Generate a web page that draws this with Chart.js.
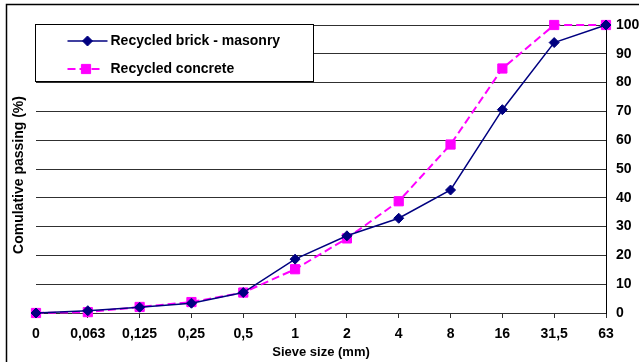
<!DOCTYPE html>
<html>
<head>
<meta charset="utf-8">
<script src="https://cdn.jsdelivr.net/npm/chart.js@4/dist/chart.umd.min.js"></script>
<style>
  html, body { margin: 0; padding: 0; background: #fff; }
  #wrap { width: 639px; height: 362px; }
</style>
</head>
<body>
<div id="wrap"><canvas id="c" width="639" height="362"></canvas></div>
<script>
// Sieve sizes (mm) along the x axis
const sieveSizes = ['0', '0,063', '0,125', '0,25', '0,5', '1', '2', '4', '8', '16', '31,5', '63'];
// Cumulative passing (%) per sieve
const brickMasonry = [0, 0.8, 2.0, 3.4, 7.1, 18.7, 26.8, 32.9, 42.7, 70.6, 93.9, 100];
const recycledConcrete = [0, 0.3, 2.1, 3.8, 7.1, 15.2, 25.9, 38.8, 58.5, 84.9, 100, 100];
// Passing-axis tick values
const passingTicks = [0, 10, 20, 30, 40, 50, 60, 70, 80, 90, 100];

const seriesNames = ['Recycled brick - masonry', 'Recycled concrete'];

const FONT = "'Liberation Sans', Arial, Helvetica, sans-serif";
const NAVY = '#000080';
const MAGENTA = '#FF00FF';
const GRID = '#303030';

// White page with the frame lines along the left and top edges
const pageFrame = {
  id: 'pageFrame',
  afterLayout(chart) {
    // centre the left-hand title a little lower, on the whole left band
    const s = chart.scales.yTitle;
    if (s) { s.bottom += 12; }
  },
  beforeDraw(chart) {
    const ctx = chart.ctx;
    ctx.save();
    ctx.fillStyle = '#fff';
    ctx.fillRect(0, 0, chart.width, chart.height);
    ctx.strokeStyle = '#000';
    ctx.lineWidth = 1.5;
    ctx.beginPath();
    ctx.moveTo(6.5, chart.height);
    ctx.lineTo(6.5, 4.5);
    ctx.lineTo(chart.width, 4.5);
    ctx.stroke();
    ctx.restore();
  }
};

// Boxed legend in the upper left of the plot, with line + marker samples
const boxedLegend = {
  id: 'boxedLegend',
  afterDraw(chart) {
    const ctx = chart.ctx;
    const area = chart.chartArea;
    const x0 = Math.round(area.left) - 0.5, y0 = Math.round(area.top) - 0.5;
    const w = 278, h = 57;
    ctx.save();
    ctx.fillStyle = '#fff';
    ctx.fillRect(x0, y0, w, h);
    ctx.strokeStyle = '#000';
    ctx.lineWidth = 1;
    ctx.strokeRect(x0, y0, w, h);

    const rows = [
      { y: y0 + 16.5, lineTo: x0 + 72, marker: x0 + 52 },
      { y: y0 + 44.5, lineTo: x0 + 65, marker: x0 + 50.5 }
    ];
    chart.data.datasets.forEach((ds, i) => {
      const r = rows[i];
      const xs = x0 + 32;
      ctx.save();
      ctx.strokeStyle = ds.borderColor;
      ctx.lineWidth = ds.borderWidth;
      ctx.setLineDash(ds.borderDash || []);
      ctx.beginPath();
      ctx.moveTo(xs, r.y);
      ctx.lineTo(r.lineTo, r.y);
      ctx.stroke();
      ctx.restore();
      ctx.save();
      ctx.fillStyle = ds.pointBackgroundColor;
      ctx.strokeStyle = ds.pointBorderColor;
      ctx.lineWidth = 1;
      Chart.helpers.drawPoint(ctx, {
        pointStyle: ds.pointStyle,
        radius: ds.pointRadius,
        rotation: 0,
        borderWidth: 1
      }, r.marker, r.y);
      ctx.restore();

      ctx.fillStyle = '#000';
      ctx.font = 'bold 14px ' + FONT;
      ctx.textBaseline = 'middle';
      ctx.textAlign = 'left';
      ctx.fillText(ds.label, x0 + 75, r.y);
    });
    ctx.restore();
  }
};

new Chart(document.getElementById('c'), {
  type: 'line',
  data: {
    labels: sieveSizes,
    datasets: [
      {
        label: seriesNames[0],
        data: brickMasonry,
        borderColor: NAVY,
        borderWidth: 1.5,
        pointStyle: 'rectRot',
        pointRadius: 5,
        pointBackgroundColor: NAVY,
        pointBorderColor: NAVY,
        pointBorderWidth: 1,
        tension: 0,
        clip: false,
        yAxisID: 'y'
      },
      {
        label: seriesNames[1],
        data: recycledConcrete,
        borderColor: MAGENTA,
        borderWidth: 2,
        borderDash: [8, 4],
        pointStyle: 'rect',
        pointRadius: 6.5,
        pointBackgroundColor: MAGENTA,
        pointBorderColor: MAGENTA,
        pointBorderWidth: 1,
        tension: 0,
        clip: false,
        yAxisID: 'y'
      }
    ]
  },
  options: {
    responsive: false,
    animation: false,
    devicePixelRatio: 1,
    layout: { padding: { top: 25, left: 0, right: 0, bottom: 0 } },
    plugins: {
      legend: { display: false },
      tooltip: { enabled: false }
    },
    scales: {
      x: {
        type: 'category',
        offset: false,
        grid: { drawOnChartArea: false, drawTicks: true, tickLength: 5, color: GRID, lineWidth: 1 },
        border: { display: true, color: GRID, width: 1 },
        ticks: {
          font: { family: FONT, size: 14, weight: 'bold' },
          color: '#000',
          padding: 8,
          maxRotation: 0,
          autoSkip: false
        },
        title: {
          display: true,
          text: 'Sieve size (mm)',
          font: { family: FONT, size: 13, weight: 'bold' },
          color: '#000',
          padding: { top: 0, bottom: 2 }
        },
        afterFit(scale) { scale.height = 49; }
      },
      yTitle: {
        type: 'linear',
        position: 'left',
        min: 0,
        max: 100,
        grid: { display: false, drawTicks: false },
        border: { display: false },
        ticks: { display: false },
        title: {
          display: true,
          text: 'Comulative passing (%)',
          font: { family: FONT, size: 14, weight: 'bold' },
          color: '#000',
          padding: { top: 11, bottom: 0 }
        },
        afterFit(scale) { scale.width = 36; }
      },
      y: {
        type: 'linear',
        position: 'right',
        min: 0,
        max: 100,
        afterBuildTicks(scale) { scale.ticks = passingTicks.map(v => ({ value: v })); },
        grid: { color: GRID, lineWidth: 1, drawTicks: false },
        border: { display: true, color: '#000', width: 1 },
        ticks: {
          font: { family: FONT, size: 14, weight: 'bold' },
          color: '#000',
          padding: 10
        },
        afterFit(scale) { scale.width = 33; }
      }
    }
  },
  plugins: [pageFrame, boxedLegend]
});
</script>
</body>
</html>
